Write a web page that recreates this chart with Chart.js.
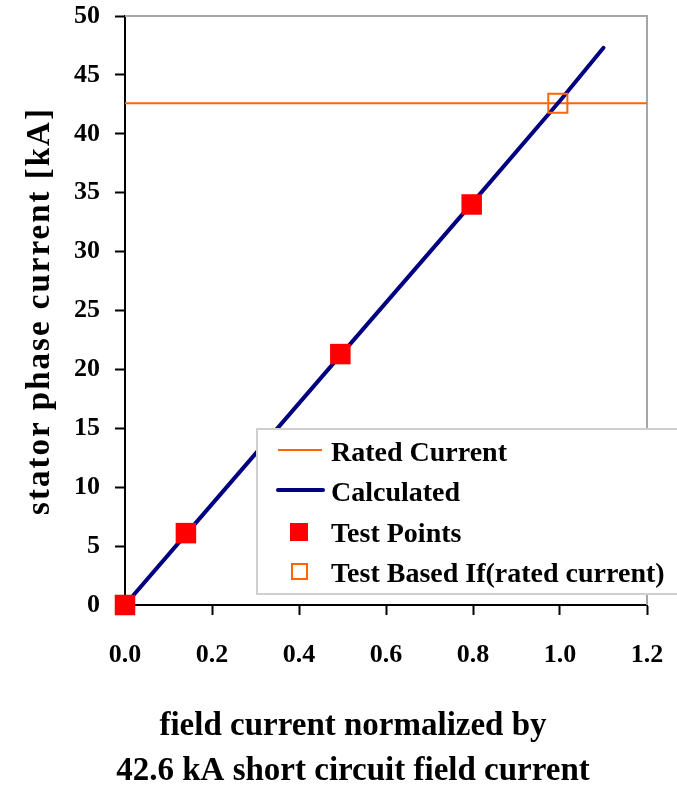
<!DOCTYPE html>
<html>
<head>
<meta charset="utf-8">
<script src="https://cdn.jsdelivr.net/npm/chart.js@4/dist/chart.umd.min.js"></script>
<style>
  html, body { margin: 0; padding: 0; background: #fff; }
  #wrap { width: 677px; height: 788px; }
</style>
</head>
<body>
<div id="wrap"><canvas id="c" width="677" height="788"></canvas></div>
<script>
// ---- data ----
const xMin = 0, xMax = 1.2, xStep = 0.2;
const yMin = 0, yMax = 50, yStep = 5;

const seriesLabels = ['Rated Current', 'Calculated', 'Test Points', 'Test Based If(rated current)'];

const ratedX = [0, 1.2];
const ratedY = [42.6, 42.6];

const calcX = [0, 0.14, 0.5, 0.8, 1.0, 1.1];
const calcY = [0, 6.0, 21.4, 34.2, 42.8, 47.3];

const testX = [0, 0.14, 0.495, 0.797];
const testY = [0, 6.1, 21.3, 34.0];

const ratedPtX = [0.995];
const ratedPtY = [42.6];

const yTitle = 'stator phase current [kA]';
const xTitleLines = ['field current normalized by', '42.6 kA short circuit field current'];

// ---- helpers ----
const pts = (xs, ys) => xs.map((x, i) => ({ x: x, y: ys[i] }));
const FONT = '"Liberation Serif", "Times New Roman", serif';
const ORANGE = '#FF6600', NAVY = '#000080', RED = '#FF0000';

const framePlugin = {
  id: 'frame',
  beforeDatasetsDraw(chart) {
    const { ctx, chartArea: a } = chart;
    ctx.save();
    ctx.strokeStyle = '#a6a6a6';
    ctx.lineWidth = 2;
    ctx.beginPath();
    ctx.moveTo(a.left, a.top);
    ctx.lineTo(a.right, a.top);
    ctx.lineTo(a.right, a.bottom);
    ctx.stroke();
    ctx.restore();
  }
};

const legendPlugin = {
  id: 'customLegend',
  afterDraw(chart) {
    const ctx = chart.ctx;
    const ds = chart.data.datasets;
    ctx.save();
    ctx.fillStyle = '#ffffff';
    ctx.strokeStyle = '#cfcfcf';
    ctx.lineWidth = 2;
    ctx.fillRect(257, 429, 460, 165);
    ctx.strokeRect(257, 429, 460, 165);
    const rows = [451, 491, 532, 572];
    ctx.font = 'bold 28px ' + FONT;
    ctx.textBaseline = 'alphabetic';
    ctx.textAlign = 'left';
    ds.forEach((d, i) => {
      const cy = rows[i];
      if (d.pointRadius === 0) {
        ctx.strokeStyle = d.borderColor;
        ctx.lineWidth = d.borderWidth;
        ctx.lineCap = i === 1 ? 'round' : 'butt';
        ctx.beginPath();
        ctx.moveTo(278, cy - 1);
        ctx.lineTo(i === 1 ? 323 : 322, cy - 1);
        ctx.stroke();
      } else if (d.backgroundColor !== 'rgba(0,0,0,0)') {
        ctx.fillStyle = d.backgroundColor;
        ctx.fillRect(290, cy - 9, 18, 18);
      } else {
        ctx.strokeStyle = d.borderColor;
        ctx.lineWidth = 2;
        ctx.strokeRect(292, cy - 8, 15, 15);
      }
      ctx.fillStyle = '#000';
      ctx.fillText(d.label, 331, cy + 10);
    });
    ctx.restore();
  }
};

const titlesPlugin = {
  id: 'axisTitles',
  afterDraw(chart) {
    const ctx = chart.ctx;
    ctx.save();
    ctx.fillStyle = '#000';
    ctx.textAlign = 'center';
    ctx.textBaseline = 'middle';
    ctx.font = 'bold 33px ' + FONT;
    try { ctx.letterSpacing = '2px'; } catch (e) {}
    ctx.translate(40, 311);
    ctx.rotate(-Math.PI / 2);
    ctx.fillText(yTitle, 0, 0);
    ctx.restore();

    ctx.save();
    ctx.fillStyle = '#000';
    ctx.textAlign = 'center';
    ctx.textBaseline = 'alphabetic';
    ctx.font = 'bold 33px ' + FONT;
    ctx.fillText(xTitleLines[0], 353, 735);
    ctx.fillText(xTitleLines[1], 353, 780);
    ctx.restore();
  }
};

const tickFont = { family: FONT, size: 26, weight: 'bold' };
const zeroPad = s => { s.paddingTop = 0; s.paddingBottom = 0; s.paddingLeft = 0; s.paddingRight = 0; };

new Chart(document.getElementById('c'), {
  type: 'scatter',
  data: {
    datasets: [
      {
        label: seriesLabels[0],
        data: pts(ratedX, ratedY),
        showLine: true,
        borderColor: ORANGE,
        backgroundColor: ORANGE,
        borderWidth: 2,
        pointRadius: 0,
        order: 4
      },
      {
        label: seriesLabels[1],
        data: pts(calcX, calcY),
        showLine: true,
        borderColor: NAVY,
        backgroundColor: NAVY,
        borderWidth: 4,
        borderCapStyle: 'round',
        borderJoinStyle: 'round',
        tension: 0,
        pointRadius: 0,
        order: 3
      },
      {
        label: seriesLabels[2],
        data: pts(testX, testY),
        showLine: false,
        pointStyle: 'rect',
        pointRadius: 14.5,
        backgroundColor: RED,
        borderColor: RED,
        borderWidth: 0,
        order: 2
      },
      {
        label: seriesLabels[3],
        data: pts(ratedPtX, ratedPtY),
        showLine: false,
        pointStyle: 'rect',
        pointRadius: 13.5,
        backgroundColor: 'rgba(0,0,0,0)',
        borderColor: ORANGE,
        borderWidth: 2,
        order: 1
      }
    ]
  },
  options: {
    responsive: false,
    animation: false,
    clip: false,
    layout: { padding: { top: 16, right: 30, left: 0, bottom: 0 } },
    plugins: {
      legend: { display: false },
      tooltip: { enabled: false },
      title: { display: false }
    },
    scales: {
      x: {
        type: 'linear',
        min: xMin, max: xMax,
        ticks: {
          stepSize: xStep,
          font: tickFont,
          color: '#000',
          padding: 25,
          maxRotation: 0,
          callback: v => Number(v).toFixed(1)
        },
        grid: { drawOnChartArea: false, drawTicks: true, tickLength: 10, color: '#000', tickWidth: 2 },
        border: { display: true, color: '#000', width: 2 },
        afterFit: s => { s.height = 183; zeroPad(s); }
      },
      y: {
        type: 'linear',
        min: yMin, max: yMax,
        ticks: {
          stepSize: yStep,
          font: tickFont,
          color: '#000',
          padding: 15
        },
        grid: { drawOnChartArea: false, drawTicks: true, tickLength: 10, color: '#000', tickWidth: 2 },
        border: { display: true, color: '#000', width: 2 },
        afterFit: s => { s.width = 125; zeroPad(s); }
      }
    }
  },
  plugins: [framePlugin, legendPlugin, titlesPlugin]
});
</script>
</body>
</html>
